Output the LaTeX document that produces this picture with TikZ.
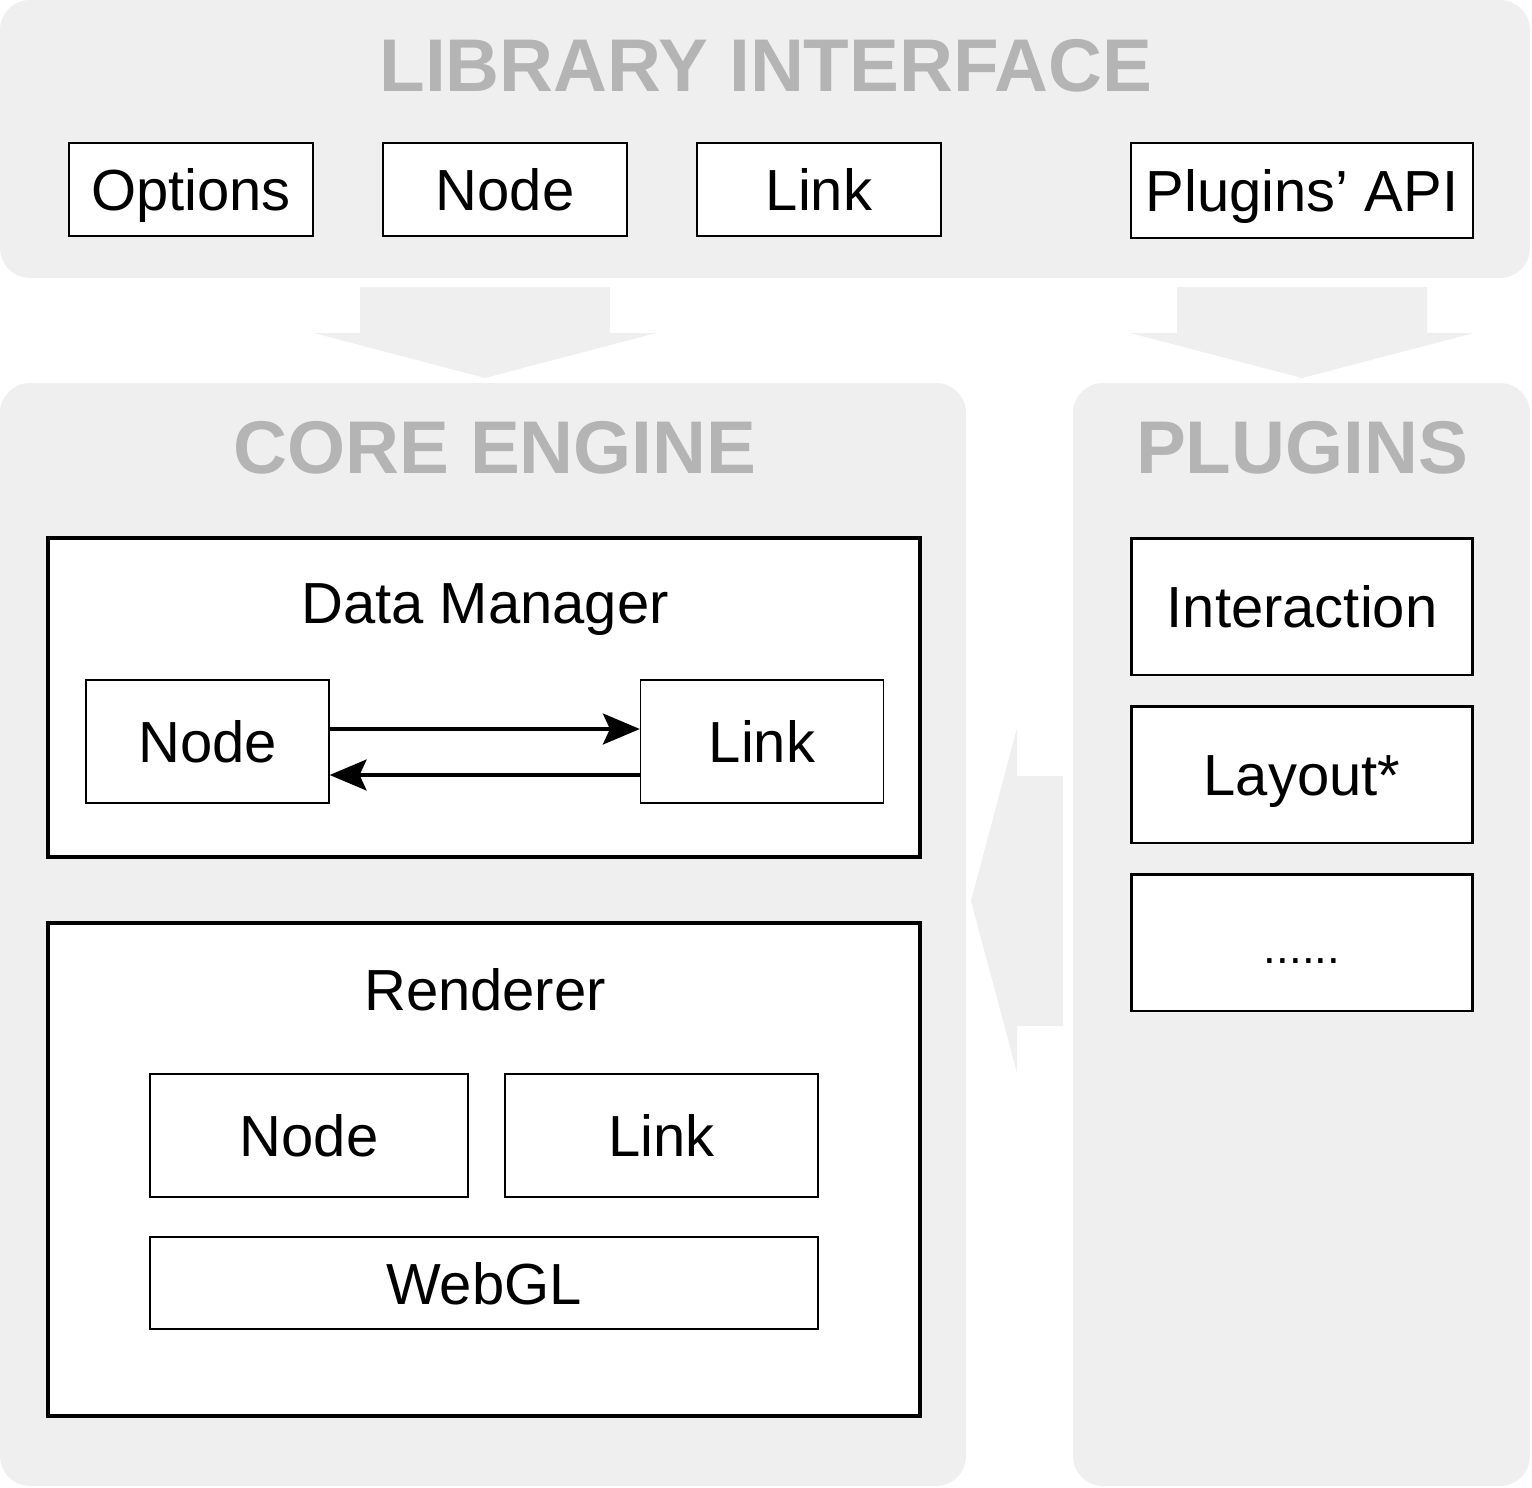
\documentclass[tikz,border=0pt]{standalone}
\usepackage{fontspec}
\setmainfont{Liberation Sans}
\usepackage{tikz}
\usetikzlibrary{arrows.meta}
\definecolor{panelgray}{RGB}{239,239,239}
\definecolor{titlegray}{RGB}{180,180,180}
\tikzset{
  panel/.style={fill=panelgray, rounded corners=0.6cm},
  paneltitle/.style={titlegray, anchor=base, font=\fontsize{42.5pt}{50pt}\selectfont\bfseries},
  box/.style={draw, rectangle, fill=white, line width=0.8pt, inner sep=0pt, text height=24pt, text depth=0pt, font=\fontsize{33pt}{40pt}\selectfont},
  thickbox/.style={box, line width=2pt},
  boxtitle/.style={anchor=base, font=\fontsize{33pt}{40pt}\selectfont},
  blockarrow/.style={fill=panelgray}
}
\begin{document}
\begin{tikzpicture}[x=0.02cm, y=-0.02cm]
\useasboundingbox (0,0) rectangle (1532,1488);
\fill[panel] (0,0) rectangle (1530,278);
\fill[panel] (0,383) rectangle (966,1486);
\fill[panel] (1073,383) rectangle (1530,1486);
\node[paneltitle] (libt) at (766,91) {LIBRARY INTERFACE};
\node[paneltitle] (coret) at (495,473) {CORE ENGINE};
\node[paneltitle] (plugt) at (1302,473) {PLUGINS};
\fill[blockarrow] (360,287) -- (610,287) -- (610,333) -- (656,333) -- (485,378) -- (314,333) -- (360,333) -- cycle;
\fill[blockarrow] (1177,287) -- (1427,287) -- (1427,333) -- (1474,333) -- (1302,378) -- (1130,333) -- (1177,333) -- cycle;
\fill[blockarrow] (1063,776) -- (1063,1026) -- (1017,1026) -- (1017,1073) -- (971,901) -- (1017,728) -- (1017,776) -- cycle;
\node[box, minimum width=4.88cm, minimum height=1.86cm] (opt) at (191,189.5) {Options};
\node[box, minimum width=4.88cm, minimum height=1.86cm] (inode) at (505,189.5) {Node};
\node[box, minimum width=4.88cm, minimum height=1.86cm] (ilink) at (819,189.5) {Link};
\node[box, minimum width=6.84cm, minimum height=1.9cm] (api) at (1302,190.5) {Plugins’ API};
\node[thickbox, minimum width=17.44cm, minimum height=6.38cm] (dm) at (484,697.5) {};
\node[boxtitle] (dmt) at (485,623) {Data Manager};
\node[box, minimum width=4.86cm, minimum height=2.46cm] (dmnode) at (207.5,741.5) {Node};
\node[box, minimum width=4.86cm, minimum height=2.46cm] (dmlink) at (762,741.5) {Link};
\draw [->, >={Stealth[length=21pt,width=17.6pt,inset=4pt]}, line width=2pt] ([yshift=0.25cm] dmnode.east) -- ([yshift=0.25cm] dmlink.west);
\draw [->, >={Stealth[length=21pt,width=17.6pt,inset=4pt]}, line width=2pt] ([yshift=-0.67cm] dmlink.west) -- ([yshift=-0.67cm] dmnode.east);
\node[thickbox, minimum width=17.44cm, minimum height=9.86cm] (rend) at (484,1169.5) {};
\node[boxtitle] (rendt) at (485,1010) {Renderer};
\node[box, minimum width=6.36cm, minimum height=2.46cm] (rnode) at (309,1135.5) {Node};
\node[box, minimum width=6.26cm, minimum height=2.46cm] (rlink) at (661.5,1135.5) {Link};
\node[box, minimum width=13.36cm, minimum height=1.84cm] (webgl) at (484,1283) {WebGL};
\node[thickbox, line width=1.7pt, minimum width=6.84cm, minimum height=2.74cm] (inter) at (1302,606.5) {Interaction};
\node[thickbox, line width=1.7pt, minimum width=6.84cm, minimum height=2.74cm] (layout) at (1302,774.5) {Layout*};
\node[thickbox, line width=1.7pt, minimum width=6.84cm, minimum height=2.74cm, font=\fontsize{26pt}{30pt}\selectfont] (more) at (1302,942.5) {......};
\end{tikzpicture}
\end{document}
